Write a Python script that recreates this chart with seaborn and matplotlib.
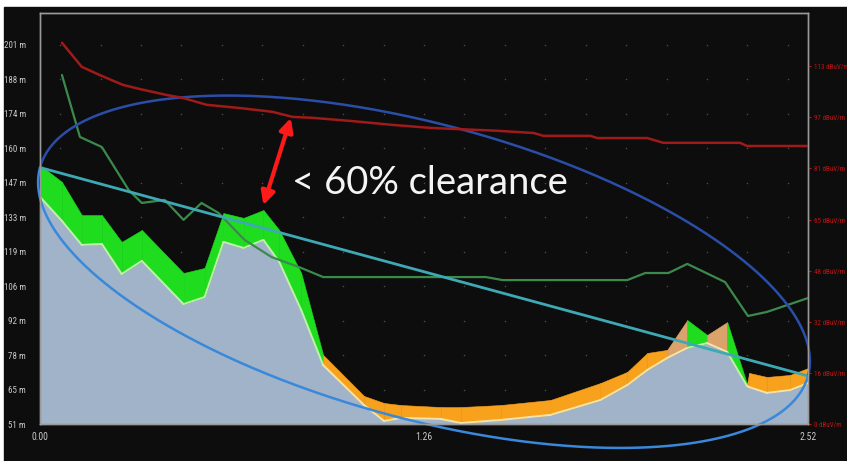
import numpy as np
import pandas as pd
import matplotlib
matplotlib.use("Agg")
import matplotlib.pyplot as plt
import seaborn as sns
from matplotlib.patches import Rectangle

# ---- Path profile: distance (km), ground height and clutter top (m) ----
dist_km = [0.000, 0.072, 0.137, 0.203, 0.268, 0.334, 0.471, 0.540, 0.602, 0.668,
           0.733, 0.785, 0.857, 0.929, 1.063, 1.129, 1.185, 1.315, 1.381, 1.512,
           1.675, 1.839, 1.927, 1.993, 2.058, 2.124, 2.189, 2.255, 2.320, 2.327,
           2.385, 2.461, 2.520]
terrain_m = [140.8, 131.3, 121.8, 122.2, 110.3, 115.5, 98.4, 101.2, 123.0, 120.6,
             123.8, 115.1, 96.1, 74.3, 58.5, 52.2, 53.4, 53.0, 51.4, 52.6,
             54.6, 60.5, 66.4, 72.4, 77.1, 81.1, 83.0, 79.5, 66.0, 65.6,
             63.3, 64.4, 67.2]
clutter_top_m = [153.4, 146.7, 133.6, 133.6, 123.0, 127.7, 110.7, 112.7, 134.4, 132.5,
                 135.6, 127.7, 110.7, 78.3, 62.1, 59.3, 58.5, 57.7, 57.7, 58.5,
                 60.5, 67.2, 71.6, 79.1, 80.3, 92.1, 86.2, 91.3, 66.8, 71.2,
                 69.6, 70.4, 73.1]
# clutter class of each segment between consecutive profile points
clutter_class = (["forest"] * 13 + ["urban"] * 11 +
                 ["village", "forest", "village", "forest"] + ["urban"] * 4)

# ---- Line of sight between the two antennas (m) ----
los_km = [0.0, 2.52]
los_m = [152.4, 70.0]
fresnel_ratio = 0.37  # minor / major half-axis of the drawn zone

# ---- Received field strength (dBuV/m, right axis) ----
field_km = [0.072, 0.137, 0.196, 0.272, 0.327, 0.416, 0.468, 0.547, 0.654, 0.762,
            0.828, 0.893, 1.021, 1.152, 1.283, 1.502, 1.620, 1.652, 1.806, 1.829,
            1.993, 2.045, 2.297, 2.320, 2.520]
field_dbuv = [120.4, 112.8, 110.2, 107.1, 105.8, 103.9, 103.0, 100.8, 99.8, 98.6,
              97.0, 96.7, 95.7, 94.5, 93.5, 92.6, 91.9, 91.0, 91.0, 90.3,
              90.3, 88.8, 88.8, 87.8, 87.8]

# ---- Required antenna height along the path (m) ----
req_km = [0.072, 0.131, 0.203, 0.291, 0.334, 0.409, 0.471, 0.530, 0.586, 0.671,
          0.760, 0.857, 0.929, 1.463, 1.518, 1.927, 1.986, 2.062, 2.124, 2.248,
          2.323, 2.385, 2.520]
req_m = [189.0, 164.5, 160.5, 143.5, 138.4, 139.6, 131.7, 138.4, 134.4, 123.8,
         117.0, 112.7, 109.1, 109.1, 107.9, 107.9, 110.7, 110.7, 114.3, 107.1,
         93.7, 95.3, 100.8]

# ---- Axis ticks ----
x_ticks = [0.0, 1.26, 2.52]
x_tick_labels = ["0.00", "1.26", "2.52"]
y_tick_labels = ["51 m", "65 m", "78 m", "92 m", "106 m", "119 m", "133 m",
                 "147 m", "160 m", "174 m", "188 m", "201 m"]
r_tick_labels = ["0 dBuV/m", "16 dBuV/m", "32 dBuV/m", "48 dBuV/m",
                 "65 dBuV/m", "81 dBuV/m", "97 dBuV/m", "113 dBuV/m"]
annotation_text = "< 60% clearance"

clutter_colors = {"forest": "#1fdc1f", "urban": "#f7a11c", "village": "#dca26c"}
edge_colors = {"forest": "#bff2a8", "urban": "#f5e4a8", "village": "#f5e4a8"}

sns.set_style("dark")
NARROW = ["Roboto Condensed", "Liberation Sans Narrow", "DejaVu Sans"]
plt.rcParams["font.family"] = NARROW

BG = "#0d0d0d"
fig = plt.figure(figsize=(8.47, 4.61), dpi=100, facecolor="white")
fig.patches.append(Rectangle((4 / 847, 0), 1, (461 - 7) / 461,
                             transform=fig.transFigure, color=BG, zorder=-10))
ax = fig.add_axes([40 / 847, 37 / 461, 768 / 847, 411 / 461])
ax.set_facecolor(BG)

y_lo, y_hi = 51.0, 213.5
ax.set_xlim(0, 2.52)
ax.set_ylim(y_lo, y_hi)

# dotted background grid: one dot per column centre and height tick
y_ticks = np.linspace(51, 201, len(y_tick_labels))
cols = (np.arange(19) + 0.5) * 2.52 / 19
gx, gy = np.meshgrid(cols, y_ticks[1:])
ax.scatter(gx.ravel(), gy.ravel(), s=1.2, color="#4a4a4a", linewidths=0, zorder=1)

# terrain
ax.fill_between(dist_km, y_lo, terrain_m, color="#a0b3c8", lw=0, zorder=2)

# clutter on top of terrain, one segment at a time
d = np.asarray(dist_km)
t = np.asarray(terrain_m)
c = np.asarray(clutter_top_m)
for i, cls in enumerate(clutter_class):
    sl = slice(i, i + 2)
    ax.fill_between(d[sl], t[sl], c[sl], color=clutter_colors[cls],
                    edgecolor=clutter_colors[cls], lw=0.4, zorder=3)
    ax.plot(d[sl], t[sl], color=edge_colors[cls], lw=1.4, zorder=4,
            solid_capstyle="round")

# line of sight
los_df = pd.DataFrame({"km": los_km, "m": los_m})
sns.lineplot(data=los_df, x="km", y="m", ax=ax, color="#3ea9b4", lw=2.0,
             zorder=6, legend=False)

# required height line
req_df = pd.DataFrame({"km": req_km, "m": req_m})
sns.lineplot(data=req_df, x="km", y="m", ax=ax, color="#3b8a4c", lw=1.6,
             zorder=5, legend=False, sort=False)

# Fresnel zone ellipse around the line of sight (built in display space)
A = ax.transData.transform((los_km[0], los_m[0]))
B = ax.transData.transform((los_km[1], los_m[1]))
ctr = (A + B) / 2
half = (B - A) / 2
a = np.hypot(*half)
u = half / a
n = np.array([-u[1], u[0]])
b = a * fresnel_ratio
inv = ax.transData.inverted()
for t0, t1, col in [(0, np.pi, "#2a4ea8"), (np.pi, 2 * np.pi, "#3a88da")]:
    tt = np.linspace(t0, t1, 300)
    pts = ctr + np.outer(a * np.cos(tt), u) + np.outer(b * np.sin(tt), n)
    dpts = inv.transform(pts)
    ax.plot(dpts[:, 0], dpts[:, 1], color=col, lw=1.8, zorder=7, clip_on=False)

# field strength on right axis
ax2 = ax.twinx()
ax2.set_ylim(0, 129.8)
field_df = pd.DataFrame({"km": field_km, "dbuv": field_dbuv})
sns.lineplot(data=field_df, x="km", y="dbuv", ax=ax2, color="#a01a1a", lw=1.8,
             legend=False)

# clearance annotation
ax.annotate("", xy=(0.823, 172.0), xytext=(0.733, 137.5),
            arrowprops=dict(arrowstyle="<|-|>", color="#ff1a1a", lw=3.0,
                            mutation_scale=20, shrinkA=0, shrinkB=0), zorder=9)
ax.text(0.827, 146.3, annotation_text, color="#f4f4f4", fontsize=27.5,
        family=["Lato", "DejaVu Sans"], va="center", ha="left", zorder=9)

# axes styling
ax.set_xticks(x_ticks)
ax.set_xticklabels(x_tick_labels)
ax.set_yticks(y_ticks)
ax.set_yticklabels(y_tick_labels)
ax.set_xlabel("")
ax.set_ylabel("")
ax.tick_params(axis="x", colors="#c8c8c8", labelsize=7, length=4,
               direction="in", pad=6, color="#888888")
ax.tick_params(axis="y", colors="#c8c8c8", labelsize=6.5, length=0, pad=10)
ax2.set_yticks(np.linspace(0, 113, len(r_tick_labels)))
ax2.set_yticklabels(r_tick_labels)
ax2.set_ylabel("")
ax2.tick_params(axis="y", colors="#c01414", labelsize=5, length=2, pad=2)
for lab in ax.get_yticklabels() + ax.get_xticklabels() + ax2.get_yticklabels():
    lab.set_fontstretch("condensed")
for axis in (ax, ax2):
    axis.grid(False)
    for s in axis.spines.values():
        s.set_color("#9a9a9a")
        s.set_linewidth(1.0)

fig.savefig("out.png", dpi=100, facecolor=fig.get_facecolor())
